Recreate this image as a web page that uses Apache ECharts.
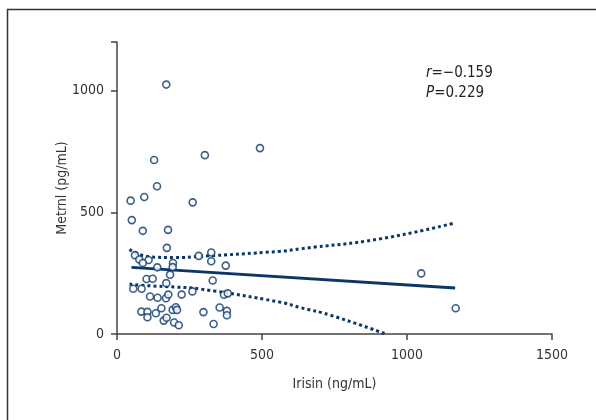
<!DOCTYPE html>
<html>
<head>
<meta charset="utf-8">
<script src="https://cdn.jsdelivr.net/npm/echarts@6/dist/echarts.min.js"></script>
<style>
  html, body { margin: 0; padding: 0; background: #fff; }
  #chart { width: 596px; height: 420px; }
</style>
</head>
<body>
<div id="chart"></div>
<script>
// 数据：Irisin (x) 与 Metrnl (y)
var irisin = [170, 128, 303, 493, 138, 47, 94, 261, 51, 89, 176, 172, 62, 77, 109, 89, 139, 193, 192,
	282, 325, 325, 375, 183, 102, 123, 170, 330, 56, 85, 114, 140, 169, 177, 223, 260, 369, 382,
	84, 105, 105, 134, 153, 192, 203, 207, 161, 171, 197, 213, 298, 333, 354, 379, 379, 1049, 1168];
var metrnl = [1025, 715, 735, 764, 607, 548, 563, 541, 468, 424, 428, 354, 324, 306, 304, 292, 274, 292, 275,
	321, 335, 299, 281, 244, 226, 227, 209, 220, 186, 186, 154, 149, 147, 162, 162, 175, 161, 167,
	92, 91, 69, 85, 106, 99, 110, 99, 55, 67, 47, 36, 90, 41, 109, 95, 77, 249, 106];

// 回归线和置信区间
var fitX = [50, 1166];
var fitY = [274, 189];
var upperX = [43, 114, 200, 286, 562, 631, 907, 1166];
var upperY = [347, 317, 314, 319, 340, 350, 391, 457];
var lowerX = [43, 114, 200, 286, 562, 631, 734, 927];
var lowerY = [205, 198, 193, 185, 131, 109, 78, 0];

var xTicks = [0, 500, 1000, 1500];
var yTicks = [0, 500, 1000];

var navy = '#0a3768';
var font = "'Liberation Sans Narrow', 'DejaVu Sans Condensed', 'Liberation Sans', sans-serif";

function pairs(xs, ys) {
	var out = [];
	for (var i = 0; i < xs.length; i++) {
		out.push([xs[i], ys[i]]);
	}
	return out;
}

var chart = echarts.init(document.getElementById('chart'));
var option = {
	animation : false,
	backgroundColor : '#fff',
	grid : {
		left : 117,
		right : 44,
		top : 42,
		bottom : 86
	},
	xAxis : {
		type : 'value',
		min : xTicks[0],
		max : xTicks[xTicks.length - 1],
		interval : 500,
		name : 'Irisin (ng/mL)',
		nameLocation : 'middle',
		nameGap : 43,
		nameMoveOverlap : false,
		nameTextStyle : { fontFamily : font, fontSize : 14, color : '#333' },
		axisLine : { lineStyle : { color : '#444', width : 1.5 } },
		axisTick : { length : 6, lineStyle : { color : '#444', width : 1.5 } },
		axisLabel : {
			fontFamily : font, fontSize : 14, color : '#333', margin : 14,
			formatter : function(v) { return String(v); }
		},
		splitLine : { show : false }
	},
	yAxis : {
		type : 'value',
		min : 0,
		max : 1200,
		interval : 500,
		name : 'Metrnl (pg/mL)',
		nameLocation : 'middle',
		nameGap : 48,
		nameMoveOverlap : false,
		nameTextStyle : { fontFamily : font, fontSize : 14, color : '#333' },
		axisLine : { show : true, lineStyle : { color : '#444', width : 1.5 } },
		axisTick : { show : true, length : 6, lineStyle : { color : '#444', width : 1.5 } },
		axisLabel : {
			fontFamily : font, fontSize : 14, color : '#333', margin : 13,
			formatter : function(v) { return yTicks.indexOf(v) >= 0 ? String(v) : ''; }
		},
		splitLine : { show : false }
	},
	graphic : [ {
		type : 'rect',
		shape : { x : 7.5, y : 9.5, width : 620, height : 440 },
		style : { fill : null, stroke : '#333', lineWidth : 1.5 },
		silent : true
	}, {
		type : 'text',
		left : 426,
		top : 63,
		style : {
			text : '{i|r}=\u22120.159\n{i|P}=0.229',
			fontFamily : font,
			fontSize : 15,
			lineHeight : 20,
			fill : '#222',
			rich : {
				i : { fontStyle : 'italic', fontFamily : font, fontSize : 15, fill : '#222' }
			}
		}
	} ],
	series : [ {
		type : 'scatter',
		data : pairs(irisin, metrnl),
		symbol : 'circle',
		symbolSize : 7,
		itemStyle : { color : '#fff', borderColor : navy, borderWidth : 1.6 },
		z : 5
	}, {
		type : 'line',
		data : pairs(fitX, fitY),
		showSymbol : false,
		lineStyle : { color : navy, width : 2.8 },
		z : 3
	}, {
		type : 'line',
		data : pairs(upperX, upperY),
		smooth : true,
		showSymbol : false,
		lineStyle : { color : navy, width : 3, type : [3, 3] },
		z : 3
	}, {
		type : 'line',
		data : pairs(lowerX, lowerY),
		smooth : true,
		showSymbol : false,
		lineStyle : { color : navy, width : 3, type : [3, 3] },
		z : 3
	} ]
};
chart.setOption(option);
</script>
</body>
</html>
